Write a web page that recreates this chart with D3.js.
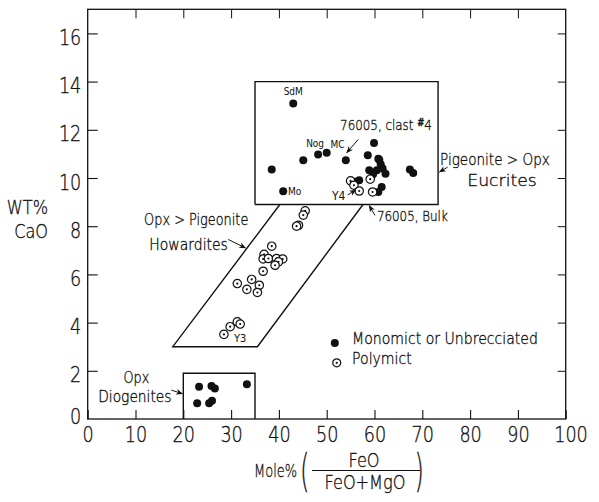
<!DOCTYPE html>
<html><head><meta charset="utf-8">
<script src="https://cdn.jsdelivr.net/npm/d3@7"></script>
<style>
body{margin:0;background:#fff;}
svg{display:block;}
text{font-family:"DejaVu Sans Condensed","Liberation Sans",sans-serif;fill:#111;}
.thin{font-family:"DejaVu Sans","DejaVu Sans Condensed",sans-serif;font-weight:200;stroke:#111;stroke-width:0.35px;}
</style></head>
<body><svg id="c" width="599" height="502"></svg>
<script>
// ---- data (x = Mole% FeO/(FeO+MgO), y = WT% CaO) ----
const xTicks = [0,10,20,30,40,50,60,70,80,90,100];
const yTicks = [0,2,4,6,8,10,12,14,16];

// Monomict or unbrecciated (filled)
const monoX = [43.0,38.5,45.1,48.2,50.0,54.0,59.9,58.6,60.8,61.0,61.3,61.7,62.3,60.5,58.9,59.7,67.4,68.1,56.8,55.9,61.5,60.8,40.9,
               23.3,25.9,26.6,33.3,22.9,25.4,26.0];
const monoY = [13.09,10.35,10.74,10.97,11.05,10.74,11.45,10.94,10.8,10.76,10.57,10.39,10.18,10.32,10.32,10.16,10.35,10.21,9.91,9.84,9.63,9.42,9.45,
               1.34,1.37,1.27,1.44,0.65,0.65,0.76];
// Polymict (open)
const polyX = [55.0,55.7,56.8,59.1,59.6,
               45.5,45.1,44.1,43.7,38.5,36.9,36.7,37.8,39.5,40.8,39.9,39.2,36.7,34.3,31.3,35.9,33.3,35.5,31.3,31.9,29.8,28.5];
const polyY = [9.88,9.70,9.46,9.95,9.42,
               8.64,8.46,8.04,8.0,7.17,6.83,6.64,6.66,6.66,6.64,6.52,6.38,6.13,5.79,5.62,5.55,5.38,5.25,4.03,3.94,3.83,3.51];

// field outlines (data units)
const eucriteBox = [[35,8.9],[73.3,8.9],[73.3,14],[35,14],[35,8.9]];
const howarditeZone = [[40.2,8.9],[17.8,3],[35.5,3],[57.6,8.9]];
const diogeniteBox = [[20,0],[20,1.9],[35,1.9],[35,0]];

// ---- chart ----
const svg = d3.select("#c");
const x = d3.scaleLinear().domain([0,100]).range([87.7,565.7]);
const y = d3.scaleLinear().domain([0,17]).range([419,9.3]);

const defs = svg.append("defs");
defs.append("marker").attr("id","ah").attr("viewBox","0 0 10 10").attr("refX",9).attr("refY",5)
  .attr("markerWidth",7).attr("markerHeight",7).attr("orient","auto")
  .append("path").attr("d","M0,1 L10,5 L0,9 L3,5 Z").attr("fill","#111");

// frame
svg.append("rect").attr("x",x(0)).attr("y",y(17)).attr("width",x(100)-x(0)).attr("height",y(0)-y(17))
  .attr("fill","none").attr("stroke","#111").attr("stroke-width",1.3);

// axes with inward ticks
const tickFont = g => g.selectAll("text").attr("class","thin").style("font-size","22px").attr("fill","#111");
const xb = svg.append("g").attr("transform",`translate(0,${y(0)})`)
  .call(d3.axisBottom(x).tickValues(xTicks).tickSize(-9).tickFormat(d3.format("d")));
xb.select(".domain").remove();
xb.selectAll("line").attr("stroke","#111").attr("stroke-width",1.1);
xb.selectAll("text").attr("y",16).attr("dy","0.32em").attr("x",d=>d===100?6:0).attr("transform","scale(0.8,1)");
tickFont(xb);
const xt = svg.append("g").attr("transform",`translate(0,${y(17)})`)
  .call(d3.axisTop(x).tickValues(xTicks.slice(1,-1)).tickSize(-9).tickFormat(""));
xt.select(".domain").remove(); xt.selectAll("line").attr("stroke","#111");
const yl = svg.append("g").attr("transform",`translate(${x(0)},0)`)
  .call(d3.axisLeft(y).tickValues(yTicks).tickSize(-10).tickFormat(d3.format("d")));
yl.select(".domain").remove();
yl.selectAll("line").attr("stroke","#111").attr("stroke-width",1.1);
yl.selectAll("text").attr("x",-8).attr("dy",d=>d===0?"0.2em":"0.5em").attr("transform","scale(0.8,1)");
tickFont(yl);
yl.selectAll(".tick").filter(d=>d===0).select("line").remove();
const yr = svg.append("g").attr("transform",`translate(${x(100)},0)`)
  .call(d3.axisRight(y).tickValues(yTicks.slice(1)).tickSize(-8).tickFormat(""));
yr.select(".domain").remove(); yr.selectAll("line").attr("stroke","#111");

// fields
const line = d3.line().x(d=>x(d[0])).y(d=>y(d[1]));
[eucriteBox,howarditeZone,diogeniteBox].forEach(p=>{
  svg.append("path").attr("d",line(p)).attr("fill","none").attr("stroke","#111").attr("stroke-width",1.4);
});

// points
svg.append("g").selectAll("circle").data(monoX.map((v,i)=>[v,monoY[i]])).join("circle")
  .attr("cx",d=>x(d[0])).attr("cy",d=>y(d[1])).attr("r",4).attr("fill","#111");
const pg = svg.append("g").selectAll("g").data(polyX.map((v,i)=>[v,polyY[i]])).join("g")
  .attr("transform",d=>`translate(${x(d[0])},${y(d[1])})`);
pg.append("circle").attr("r",4.2).attr("fill","#fff").attr("stroke","#111").attr("stroke-width",1.2);
pg.append("circle").attr("r",1.1).attr("fill","#111");

// small point labels (condensed, darker)
const tags = [
  ["SdM",43.0,13.45,10,"middle"],["Nog",45.7,11.3,10,"start"],["MC",50.8,11.25,10,"start"],
  ["Mo",41.9,9.3,10,"start"],["Y4",51.1,9.1,12,"start"],["Y3",30.6,3.2,11,"start"]
];
svg.append("g").selectAll("text").data(tags).join("text")
  .attr("x",d=>x(d[1])).attr("y",d=>y(d[2])).attr("text-anchor",d=>d[4])
  .style("font-size",d=>d[3]+"px").text(d=>d[0]);

// field annotations (text, data position, size, horizontal scale)
const notes = [
  ["76005, Bulk",60.5,8.2,14,0.85],
  ["Pigeonite > Opx",73.7,10.55,16,0.85],["Eucrites",79.4,9.65,16,1.08],
  ["Opx > Pigeonite",11.8,8.05,15,0.86],["Howardites",12.9,7.0,15,0.93],
  ["Opx",7.5,1.5,15,0.85],["Diogenites",2.2,0.7,15,0.92],
  ["Monomict  or  Unbrecciated",55.3,3.1,16,0.88],["Polymict",55.3,2.3,16,0.88]
];
svg.append("g").selectAll("text").data(notes).join("text").attr("class","thin")
  .attr("transform",d=>`translate(${x(d[1])},${y(d[2])}) scale(${d[4]},1)`)
  .style("font-size",d=>d[3]+"px").text(d=>d[0]);
// 76005, clast #4 with raised #
const ct = svg.append("text").attr("class","thin").attr("transform",`translate(${x(52.8)},${y(12.0)}) scale(0.85,1)`)
  .style("font-size","14px");
ct.append("tspan").text("76005, clast ");
ct.append("tspan").attr("dy",-4).style("font-size","10px").style("font-weight","bold").text("#");
ct.append("tspan").attr("dy",4).text("4");

// arrows
const arrows = [
  [[56.6,11.6],[54.2,11.05]],   // clast #4
  [[54.4,9.3],[56.1,9.5]],      // Y4
  [[60.1,8.45],[58.9,8.85]],    // bulk
  [[75.3,10.45],[73.6,10.25]],  // eucrites
  [[29.4,7.45],[33.0,7.1]],     // howardites
  [[17.5,1.2],[19.8,1.05]]      // diogenites
];
arrows.forEach(a=>{
  svg.append("path").attr("d",line(a)).attr("fill","none").attr("stroke","#111").attr("stroke-width",1).attr("marker-end","url(#ah)");
});

// legend markers
svg.append("circle").attr("cx",x(51.7)).attr("cy",y(3.15)).attr("r",4).attr("fill","#111");
const lp = svg.append("g").attr("transform",`translate(${x(52.1)},${y(2.33)})`);
lp.append("circle").attr("r",4).attr("fill","#fff").attr("stroke","#111").attr("stroke-width",1.2);
lp.append("circle").attr("r",1.1).attr("fill","#111");

// axis titles
const th = (sel)=>sel.attr("class","thin");
th(svg.append("text").attr("transform","translate(48,214) scale(0.85,1)").attr("text-anchor","end").style("font-size","19px").text("WT%"));
th(svg.append("text").attr("transform","translate(48,238) scale(0.85,1)").attr("text-anchor","end").style("font-size","19px").text("CaO"));
const xtG = svg.append("g");
th(xtG.append("text").attr("transform","translate(297,477) scale(0.72,1)").attr("text-anchor","end").style("font-size","18px").text("Mole%"));
th(xtG.append("text").attr("transform","translate(300,486) scale(0.55,1)").style("font-size","44px").text("("));
th(xtG.append("text").attr("transform","translate(424,486) scale(0.55,1)").attr("text-anchor","end").style("font-size","44px").text(")"));
xtG.append("line").attr("x1",312).attr("x2",420).attr("y1",470.5).attr("y2",470.5).attr("stroke","#111").attr("stroke-width",1.2);
th(xtG.append("text").attr("transform","translate(364,467) scale(0.85,1)").attr("text-anchor","middle").style("font-size","19px").text("FeO"));
th(xtG.append("text").attr("transform","translate(365,489) scale(0.85,1)").attr("text-anchor","middle").style("font-size","19px").text("FeO+MgO"));
</script></body></html>
